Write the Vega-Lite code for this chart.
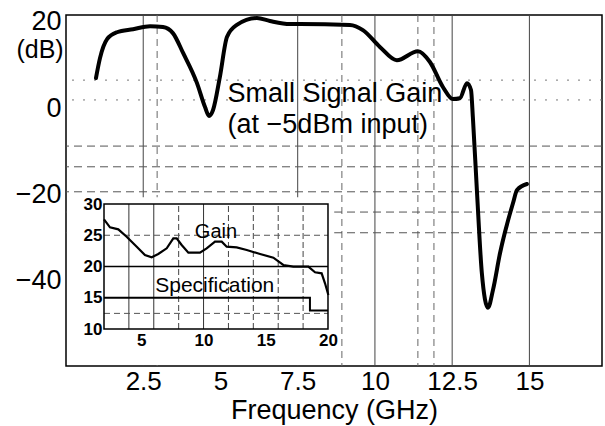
{
  "$schema": "https://vega.github.io/schema/vega-lite/v6.json",
  "width": 536,
  "height": 351,
  "autosize": {"type": "none"},
  "padding": {"left": 66, "top": 15, "right": 3, "bottom": 60},
  "background": "white",
  "config": {
    "view": {"stroke": "black", "strokeWidth": 1.5},
    "font": "Liberation Sans",
    "axis": {"domain": false, "grid": false, "ticks": false, "labelColor": "black", "titleColor": "black"}
  },
  "datasets": {
    "curve": [
      {"f": 0.97, "g": 6.98}, {"f": 1.1, "g": 11.6}, {"f": 1.33, "g": 16.0}, {"f": 1.65, "g": 17.6},
      {"f": 2.17, "g": 18.3}, {"f": 2.72, "g": 19.0}, {"f": 3.14, "g": 18.8}, {"f": 3.46, "g": 17.4},
      {"f": 3.79, "g": 12.8}, {"f": 4.24, "g": 5.8}, {"f": 4.5, "g": 0.25}, {"f": 4.63, "g": -1.8},
      {"f": 4.76, "g": -0.44}, {"f": 4.98, "g": 7.2}, {"f": 5.21, "g": 16.5}, {"f": 5.53, "g": 19.3},
      {"f": 6.18, "g": 20.9}, {"f": 6.6, "g": 20.2}, {"f": 7.25, "g": 19.5}, {"f": 7.57, "g": 19.5},
      {"f": 9.19, "g": 19.3}, {"f": 9.61, "g": 18.1}, {"f": 10.16, "g": 14.2}, {"f": 10.71, "g": 11.1},
      {"f": 11.39, "g": 13.2}, {"f": 11.78, "g": 10.7}, {"f": 12.2, "g": 4.9}, {"f": 12.52, "g": 2.1},
      {"f": 12.75, "g": 2.3}, {"f": 12.98, "g": 5.8}, {"f": 13.11, "g": 4.2}, {"f": 13.17, "g": -2.1},
      {"f": 13.3, "g": -19.0}, {"f": 13.46, "g": -38.2}, {"f": 13.66, "g": -46.3}, {"f": 13.82, "g": -42.2},
      {"f": 14.05, "g": -33.6}, {"f": 14.47, "g": -22.0}, {"f": 14.6, "g": -19.0}, {"f": 14.92, "g": -17.6}
    ],
    "vsolid": [{"f": 2.5}, {"f": 7.5}, {"f": 10}, {"f": 12.5}, {"f": 15}],
    "vdash": [{"f": 2.95}, {"f": 8.93}, {"f": 11.39}, {"f": 11.91}],
    "hdash": [{"g": -8.8}, {"g": -13.6}, {"g": -19.4}, {"g": -24.1}, {"g": -28.9}],
    "hdot": [{"g": 1.9}, {"g": 6.5}],
    "mainText": [
      {"f": 5.23, "g": 1.41, "t": "Small Signal Gain"},
      {"f": 5.23, "g": -5.77, "t": "(at −5dBm input)"}
    ],
    "unitText": [{"f": -0.84, "g": 13.5, "t": "(dB)"}],
    "gain": [
      {"fi": 2.0, "gi": 27.55}, {"fi": 2.48, "gi": 26.27}, {"fi": 3.15, "gi": 25.95}, {"fi": 3.82, "gi": 24.77},
      {"fi": 4.63, "gi": 23.17}, {"fi": 5.29, "gi": 21.84}, {"fi": 5.83, "gi": 21.47}, {"fi": 6.36, "gi": 22.0},
      {"fi": 7.04, "gi": 22.91}, {"fi": 7.57, "gi": 24.51}, {"fi": 7.84, "gi": 24.51}, {"fi": 8.24, "gi": 23.44},
      {"fi": 8.78, "gi": 22.21}, {"fi": 9.71, "gi": 22.21}, {"fi": 10.25, "gi": 22.91}, {"fi": 10.92, "gi": 23.97},
      {"fi": 11.46, "gi": 23.97}, {"fi": 11.86, "gi": 23.17}, {"fi": 12.66, "gi": 23.07}, {"fi": 13.47, "gi": 22.64},
      {"fi": 14.54, "gi": 22.0}, {"fi": 15.61, "gi": 21.41}, {"fi": 16.41, "gi": 20.24}, {"fi": 17.21, "gi": 19.97},
      {"fi": 18.42, "gi": 19.97}, {"fi": 18.96, "gi": 19.07}, {"fi": 19.49, "gi": 18.91}, {"fi": 19.76, "gi": 17.31},
      {"fi": 20.03, "gi": 15.44}
    ],
    "spec": [{"fi": 2, "gi": 15}, {"fi": 18.55, "gi": 15}, {"fi": 18.55, "gi": 12.95}, {"fi": 20, "gi": 12.95}],
    "ivsolid": [{"fi": 4}, {"fi": 6}, {"fi": 10}],
    "ivdash": [{"fi": 8}, {"fi": 12}, {"fi": 14}, {"fi": 16}, {"fi": 18}],
    "ihdash": [{"gi": 25}, {"gi": 12.5}],
    "ihsolid": [{"gi": 20}],
    "gainText": [{"fi": 9.3, "gi": 24.6, "t": "Gain"}],
    "specText": [{"fi": 10.9, "gi": 15.9, "t": "Specification"}],
    "one": [{"k": 1}]
  },
  "layer": [
    {
      "data": {"name": "vsolid"},
      "mark": {"type": "rule", "color": "#444", "strokeWidth": 1},
      "encoding": {"x": {"field": "f", "type": "quantitative", "scale": {"domain": [0, 17.35], "nice": false, "zero": false}, "axis": null}}
    },
    {
      "data": {"name": "vdash"},
      "mark": {"type": "rule", "color": "#666", "strokeWidth": 1, "strokeDash": [7, 5]},
      "encoding": {"x": {"field": "f", "type": "quantitative", "scale": {"domain": [0, 17.35], "nice": false, "zero": false}, "axis": null}}
    },
    {
      "data": {"name": "hdash"},
      "mark": {"type": "rule", "color": "#555", "strokeWidth": 1, "strokeDash": [8, 5]},
      "encoding": {"y": {"field": "g", "type": "quantitative", "scale": {"domain": [-59.8, 21.6], "nice": false, "zero": false}, "axis": null}}
    },
    {
      "data": {"name": "hdot"},
      "mark": {"type": "rule", "color": "#777", "strokeWidth": 1, "strokeDash": [2, 9]},
      "encoding": {"y": {"field": "g", "type": "quantitative", "scale": {"domain": [-59.8, 21.6], "nice": false, "zero": false}, "axis": null}}
    },
    {
      "data": {"name": "curve"},
      "mark": {"type": "line", "color": "black", "strokeWidth": 4, "interpolate": "monotone", "strokeCap": "round", "strokeJoin": "round"},
      "encoding": {
        "x": {"field": "f", "type": "quantitative", "scale": {"domain": [0, 17.35], "nice": false, "zero": false},
          "axis": {"orient": "bottom", "values": [2.5, 5, 7.5, 10, 12.5, 15], "labelExpr": "format(datum.value, '.1~f')", "labelFontSize": 26, "labelPadding": 2,
            "title": "Frequency (GHz)", "titleFontSize": 27, "titleFontWeight": "normal", "titlePadding": 3}},
        "y": {"field": "g", "type": "quantitative", "scale": {"domain": [-59.8, 21.6], "nice": false, "zero": false},
          "axis": {"orient": "left", "values": [20, 0, -20, -40], "format": "d", "labelFontSize": 27, "labelPadding": 5, "title": null}}
      }
    },
    {
      "data": {"name": "mainText"},
      "mark": {"type": "text", "align": "left", "baseline": "alphabetic", "fontSize": 27, "color": "black"},
      "encoding": {
        "x": {"field": "f", "type": "quantitative", "scale": {"domain": [0, 17.35], "nice": false, "zero": false}, "axis": null},
        "y": {"field": "g", "type": "quantitative", "scale": {"domain": [-59.8, 21.6], "nice": false, "zero": false}, "axis": null},
        "text": {"field": "t"}
      }
    },
    {
      "data": {"name": "unitText"},
      "mark": {"type": "text", "align": "center", "baseline": "middle", "fontSize": 25, "color": "black"},
      "encoding": {
        "x": {"field": "f", "type": "quantitative", "scale": {"domain": [0, 17.35], "nice": false, "zero": false}, "axis": null},
        "y": {"field": "g", "type": "quantitative", "scale": {"domain": [-59.8, 21.6], "nice": false, "zero": false}, "axis": null},
        "text": {"field": "t"}
      }
    },
    {
      "data": {"name": "one"},
      "mark": {"type": "rect", "fill": "white", "strokeWidth": 0},
      "encoding": {
        "x": {"datum": -0.97, "type": "quantitative", "scale": {"domain": [-1.054, 42.02], "nice": false, "zero": false}, "axis": null},
        "x2": {"datum": 20.5},
        "y": {"datum": 4.24, "type": "quantitative", "scale": {"domain": [4.08, 60.24], "nice": false, "zero": false}, "axis": null},
        "y2": {"datum": 31.1}
      }
    },
    {
      "data": {"name": "ivsolid"},
      "mark": {"type": "rule", "color": "#333", "strokeWidth": 1},
      "encoding": {
        "x": {"field": "fi", "type": "quantitative", "scale": {"domain": [-1.054, 42.02], "nice": false, "zero": false}, "axis": null},
        "y": {"datum": 10, "type": "quantitative", "scale": {"domain": [4.08, 60.24], "nice": false, "zero": false}, "axis": null},
        "y2": {"datum": 30}
      }
    },
    {
      "data": {"name": "ivdash"},
      "mark": {"type": "rule", "color": "#444", "strokeWidth": 1, "strokeDash": [6, 3]},
      "encoding": {
        "x": {"field": "fi", "type": "quantitative", "scale": {"domain": [-1.054, 42.02], "nice": false, "zero": false}, "axis": null},
        "y": {"datum": 10, "type": "quantitative", "scale": {"domain": [4.08, 60.24], "nice": false, "zero": false}, "axis": null},
        "y2": {"datum": 30}
      }
    },
    {
      "data": {"name": "ihdash"},
      "mark": {"type": "rule", "color": "#555", "strokeWidth": 1, "strokeDash": [6, 4]},
      "encoding": {
        "y": {"field": "gi", "type": "quantitative", "scale": {"domain": [4.08, 60.24], "nice": false, "zero": false}, "axis": null},
        "x": {"datum": 2, "type": "quantitative", "scale": {"domain": [-1.054, 42.02], "nice": false, "zero": false}, "axis": null},
        "x2": {"datum": 20}
      }
    },
    {
      "data": {"name": "ihsolid"},
      "mark": {"type": "rule", "color": "black", "strokeWidth": 1.5},
      "encoding": {
        "y": {"field": "gi", "type": "quantitative", "scale": {"domain": [4.08, 60.24], "nice": false, "zero": false}, "axis": null},
        "x": {"datum": 2, "type": "quantitative", "scale": {"domain": [-1.054, 42.02], "nice": false, "zero": false}, "axis": null},
        "x2": {"datum": 20}
      }
    },
    {
      "data": {"name": "one"},
      "mark": {"type": "rect", "filled": false, "stroke": "black", "strokeWidth": 1.5},
      "encoding": {
        "x": {"datum": 2, "type": "quantitative", "scale": {"domain": [-1.054, 42.02], "nice": false, "zero": false}, "axis": null},
        "x2": {"datum": 20},
        "y": {"datum": 10, "type": "quantitative", "scale": {"domain": [4.08, 60.24], "nice": false, "zero": false}, "axis": null},
        "y2": {"datum": 30}
      }
    },
    {
      "data": {"name": "spec"},
      "mark": {"type": "line", "color": "black", "strokeWidth": 2},
      "encoding": {
        "x": {"field": "fi", "type": "quantitative", "scale": {"domain": [-1.054, 42.02], "nice": false, "zero": false}, "axis": null},
        "y": {"field": "gi", "type": "quantitative", "scale": {"domain": [4.08, 60.24], "nice": false, "zero": false}, "axis": null},
        "order": {"value": 0}
      }
    },
    {
      "data": {"name": "gain"},
      "mark": {"type": "line", "color": "black", "strokeWidth": 2.2},
      "encoding": {
        "x": {"field": "fi", "type": "quantitative", "scale": {"domain": [-1.054, 42.02], "nice": false, "zero": false},
          "axis": {"orient": "bottom", "offset": -37, "zindex": 2, "values": [5, 10, 15, 20], "format": "d", "labelFontSize": 17, "labelFontWeight": "bold", "labelPadding": 3, "title": null}},
        "y": {"field": "gi", "type": "quantitative", "scale": {"domain": [4.08, 60.24], "nice": false, "zero": false},
          "axis": {"orient": "left", "offset": -38, "zindex": 2, "values": [10, 15, 20, 25, 30], "format": "d", "labelFontSize": 17, "labelFontWeight": "bold", "labelPadding": 2, "title": null}}
      }
    },
    {
      "data": {"name": "gainText"},
      "mark": {"type": "text", "align": "left", "baseline": "alphabetic", "fontSize": 20, "color": "black"},
      "encoding": {
        "x": {"field": "fi", "type": "quantitative", "scale": {"domain": [-1.054, 42.02], "nice": false, "zero": false}, "axis": null},
        "y": {"field": "gi", "type": "quantitative", "scale": {"domain": [4.08, 60.24], "nice": false, "zero": false}, "axis": null},
        "text": {"field": "t"}
      }
    },
    {
      "data": {"name": "specText"},
      "mark": {"type": "text", "align": "center", "baseline": "alphabetic", "fontSize": 21, "color": "black"},
      "encoding": {
        "x": {"field": "fi", "type": "quantitative", "scale": {"domain": [-1.054, 42.02], "nice": false, "zero": false}, "axis": null},
        "y": {"field": "gi", "type": "quantitative", "scale": {"domain": [4.08, 60.24], "nice": false, "zero": false}, "axis": null},
        "text": {"field": "t"}
      }
    }
  ],
  "resolve": {"scale": {"x": "independent", "y": "independent"}}
}
